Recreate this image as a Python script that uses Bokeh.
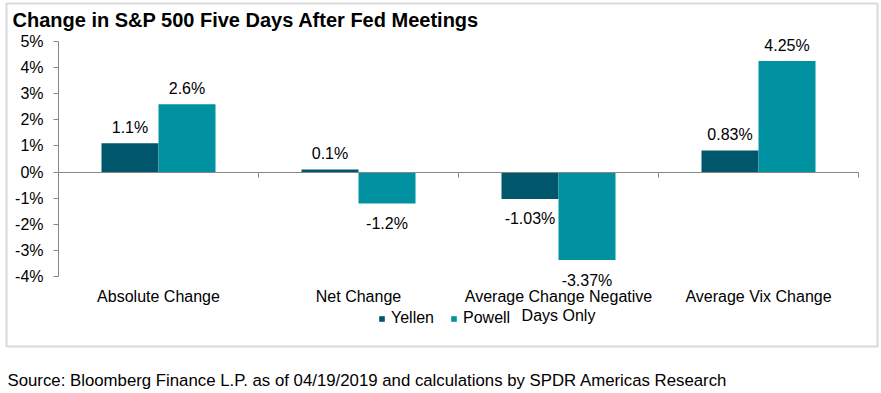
from bokeh.plotting import figure
from bokeh.models import (ColumnDataSource, Range1d, LinearAxis, FixedTicker,
                          PrintfTickFormatter, Legend, LegendItem, Label, LabelSet, BoxAnnotation)
from bokeh.core.properties import value
from bokeh.transform import dodge
from bokeh.embed import file_html
from bokeh.resources import INLINE

# ---- data ----
categories = ["Absolute Change", "Net Change", "Average Change Negative\nDays Only", "Average Vix Change"]
yellen = [1.1, 0.1, -1.03, 0.83]
powell = [2.6, -1.2, -3.37, 4.25]
yellen_labels = ["1.1%", "0.1%", "-1.03%", "0.83%"]
powell_labels = ["2.6%", "-1.2%", "-3.37%", "4.25%"]
y_ticks = [-4, -3, -2, -1, 0, 1, 2, 3, 4, 5]

title_text = "Change in S&P 500 Five Days After Fed Meetings"
source_text = "Source: Bloomberg Finance L.P. as of 04/19/2019 and calculations by SPDR Americas Research"

YELLEN_C = "#00566A"
POWELL_C = "#0092A0"
AXIS_C = "#878787"
BOX_C = "#808080"
FONT = "Liberation Sans"

W, H = 881, 393
# plot-area placement in pixels
PL, PR, PT, PB = 58, 858, 41, 276

n = len(categories)
centers = [i + 0.5 for i in range(n)]
ymin, ymax = y_ticks[0], y_ticks[-1]
xpx = (PR - PL) / n
ypx = (PB - PT) / (ymax - ymin)

src = ColumnDataSource(dict(
    xc=centers,
    yellen=yellen,
    powell=powell,
    ylab=yellen_labels,
    plab=powell_labels,
    yoff=[16 if v >= 0 else -20 for v in yellen],
    poff=[16 if v >= 0 else -20 for v in powell],
))

p = figure(width=W, height=H, title=None,
           x_range=Range1d(-PL / xpx, n + (W - PR) / xpx),
           y_range=Range1d(ymin - (H - PB) / ypx, ymax + PT / ypx),
           output_backend="svg", toolbar_location=None, min_border=0)
p.outline_line_color = None
p.xgrid.grid_line_color = None
p.ygrid.grid_line_color = None
p.background_fill_color = "white"
p.border_fill_color = "white"

bw = 0.285
r1 = p.vbar(x=dodge("xc", -bw / 2), top="yellen", width=bw, source=src,
            fill_color=YELLEN_C, line_color=None)
r2 = p.vbar(x=dodge("xc", bw / 2), top="powell", width=bw, source=src,
            fill_color=POWELL_C, line_color=None)

for col, lab, off, d in (("yellen", "ylab", "yoff", -bw / 2), ("powell", "plab", "poff", bw / 2)):
    ls = LabelSet(x=dodge("xc", d), y=col, text=lab, y_offset=off, source=src,
                  text_align="center", text_baseline="middle", text_font=value(FONT),
                  text_font_size="16px", text_color="black")
    p.add_layout(ls)

# y axis
p.yaxis.fixed_location = 0
p.yaxis.bounds = (ymin, ymax)
p.yaxis.ticker = FixedTicker(ticks=y_ticks)
p.yaxis.formatter = PrintfTickFormatter(format="%d%%")
p.yaxis.axis_line_color = AXIS_C
p.yaxis.major_tick_line_color = AXIS_C
p.yaxis.major_tick_out = 5
p.yaxis.major_tick_in = 0
p.yaxis.minor_tick_line_color = None
p.yaxis.major_label_text_font = FONT
p.yaxis.major_label_text_font_size = "16px"
p.yaxis.major_label_text_color = "black"
p.yaxis.major_label_standoff = 10

# category axis (labels only), sits at the bottom of the value range
p.xaxis.fixed_location = ymin
p.xaxis.ticker = FixedTicker(ticks=centers)
p.xaxis.major_label_overrides = {c: lab for c, lab in zip(centers, categories)}
p.xaxis.axis_line_color = None
p.xaxis.major_tick_line_color = None
p.xaxis.major_tick_out = 0
p.xaxis.major_tick_in = 0
p.xaxis.minor_tick_line_color = None
p.xaxis.major_label_text_font = FONT
p.xaxis.major_label_text_font_size = "16px"
p.xaxis.major_label_text_color = "black"
p.xaxis.major_label_standoff = 11
p.xaxis.major_label_text_line_height = 1.15

# zero line axis with ticks at category boundaries
zax = LinearAxis(ticker=FixedTicker(ticks=list(range(n + 1))), bounds=(0, n),
                 fixed_location=0, axis_line_color=AXIS_C, major_tick_line_color=AXIS_C,
                 major_tick_out=5, major_tick_in=0, minor_tick_line_color=None,
                 major_label_text_color=None, major_label_text_font_size="1px")
p.add_layout(zax, "below")

legend = Legend(items=[LegendItem(label="Yellen", renderers=[r1]), LegendItem(label="Powell", renderers=[r2])],
                orientation="horizontal", location=(378, H - 327), padding=0, margin=0, spacing=16,
                glyph_width=7, glyph_height=7, label_standoff=6, label_height=16,
                label_text_font=FONT, label_text_font_size="16px", label_text_color="black",
                border_line_color=None, background_fill_alpha=0)
p.add_layout(legend, "center")

p.add_layout(Label(x=12, y=19, x_units="canvas", y_units="canvas", text=title_text,
                   text_font=FONT, text_font_size="20px", text_font_style="bold",
                   text_baseline="middle", text_color="black"))
p.add_layout(Label(x=7, y=380, x_units="canvas", y_units="canvas", text=source_text,
                   text_font=FONT, text_font_size="16.8px",
                   text_baseline="middle", text_color="black"))

p.add_layout(BoxAnnotation(left=6, right=877, top=3, bottom=346,
                           left_units="canvas", right_units="canvas", top_units="canvas", bottom_units="canvas",
                           fill_color=None, line_color=BOX_C, line_width=2, level="underlay"))

open("out.html", "w").write(file_html(p, INLINE))
